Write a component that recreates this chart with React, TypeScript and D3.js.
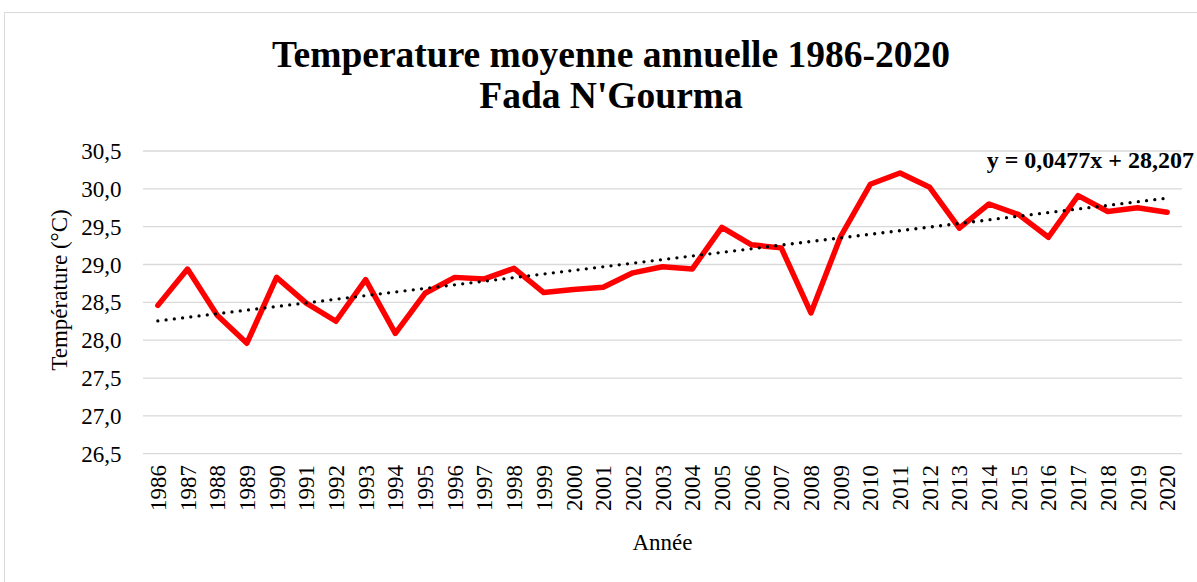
import { useRef, useEffect } from "react";
import * as d3 from "d3";

const years = [
  "1986", "1987", "1988", "1989", "1990", "1991", "1992", "1993", "1994",
  "1995", "1996", "1997", "1998", "1999", "2000", "2001", "2002", "2003",
  "2004", "2005", "2006", "2007", "2008", "2009", "2010", "2011", "2012",
  "2013", "2014", "2015", "2016", "2017", "2018", "2019", "2020",
];

const temperatures = [
  28.46, 28.94, 28.33, 27.96, 28.83, 28.49, 28.25, 28.8, 28.09,
  28.62, 28.83, 28.81, 28.95, 28.63, 28.67, 28.7, 28.89, 28.97,
  28.94, 29.49, 29.26, 29.22, 28.36, 29.37, 30.06, 30.21, 30.02,
  29.48, 29.8, 29.66, 29.36, 29.91, 29.7, 29.75, 29.69,
];

const yTicks = [26.5, 27.0, 27.5, 28.0, 28.5, 29.0, 29.5, 30.0, 30.5];

// trend line as shown on the chart (x = 1..35)
const trendSlope = 0.0477;
const trendIntercept = 28.207;
const trendLabel = "y = 0,0477x + 28,207";

const titleLines = ["Temperature moyenne annuelle 1986-2020", "Fada N'Gourma"];

export default function App() {
  const svgRef = useRef<SVGSVGElement>(null);

  useEffect(() => {
    if (!svgRef.current) return;
    const svg = d3.select(svgRef.current);
    svg.selectAll("*").remove();

    const font = "'Liberation Serif', 'Times New Roman', serif";
    const left = 143;
    const right = 1182;
    const top = 151;
    const bottom = 453.7;

    const x = d3.scaleBand<string>().domain(years).range([left, right]);
    const cx = (yr: string) => (x(yr) ?? 0) + x.bandwidth() / 2;
    const y = d3.scaleLinear().domain([26.5, 30.5]).range([bottom, top]);

    // chart frame
    svg
      .append("rect")
      .attr("x", 4.5)
      .attr("y", 12.5)
      .attr("width", 1240)
      .attr("height", 620)
      .attr("fill", "#fff")
      .attr("stroke", "#d9d9d9")
      .attr("stroke-width", 1);

    // title
    const title = svg
      .append("text")
      .attr("text-anchor", "middle")
      .attr("font-family", font)
      .attr("font-weight", "bold")
      .attr("font-size", 37.5)
      .attr("fill", "#000");
    titleLines.forEach((line, i) => {
      title
        .append("tspan")
        .attr("x", 611)
        .attr("y", 67 + i * 41)
        .text(line);
    });

    // gridlines
    svg
      .append("g")
      .selectAll("line")
      .data(yTicks)
      .join("line")
      .attr("x1", left)
      .attr("x2", right)
      .attr("y1", (d) => y(d))
      .attr("y2", (d) => y(d))
      .attr("stroke", "#d9d9d9")
      .attr("stroke-width", 1.3);

    // y tick labels
    svg
      .append("g")
      .selectAll("text")
      .data(yTicks)
      .join("text")
      .attr("x", 121.5)
      .attr("y", (d) => y(d))
      .attr("dy", "0.35em")
      .attr("text-anchor", "end")
      .attr("font-family", font)
      .attr("font-size", 23)
      .attr("fill", "#000")
      .text((d) => d.toFixed(1).replace(".", ","));

    // x tick labels (rotated)
    svg
      .append("g")
      .selectAll("text")
      .data(years)
      .join("text")
      .attr("transform", (d) => `translate(${cx(d)},465) rotate(-90)`)
      .attr("dy", "0.35em")
      .attr("text-anchor", "end")
      .attr("font-family", font)
      .attr("font-size", 23)
      .attr("fill", "#000")
      .text((d) => d);

    // axis titles
    svg
      .append("text")
      .attr("transform", "translate(59,290) rotate(-90)")
      .attr("dy", "0.35em")
      .attr("text-anchor", "middle")
      .attr("font-family", font)
      .attr("font-size", 23)
      .attr("fill", "#000")
      .text("Température (°C)");

    svg
      .append("text")
      .attr("x", (left + right) / 2)
      .attr("y", 550)
      .attr("text-anchor", "middle")
      .attr("font-family", font)
      .attr("font-size", 23)
      .attr("fill", "#000")
      .text("Année");

    // data line
    const line = d3
      .line<number>()
      .x((_, i) => cx(years[i]))
      .y((d) => y(d));

    svg
      .append("path")
      .datum(temperatures)
      .attr("d", line)
      .attr("fill", "none")
      .attr("stroke", "#ff0000")
      .attr("stroke-width", 5.5)
      .attr("stroke-linejoin", "round")
      .attr("stroke-linecap", "round");

    // trend line
    const trendVals = years.map((_, i) => trendIntercept + trendSlope * (i + 1));
    svg
      .append("path")
      .datum(trendVals)
      .attr("d", line)
      .attr("fill", "none")
      .attr("stroke", "#000")
      .attr("stroke-width", 3.3)
      .attr("stroke-linecap", "round")
      .attr("stroke-dasharray", "0 8.3");

    svg
      .append("text")
      .attr("x", 1194)
      .attr("y", 168)
      .attr("text-anchor", "end")
      .attr("font-family", font)
      .attr("font-weight", "bold")
      .attr("font-size", 24)
      .attr("fill", "#000")
      .text(trendLabel);
  }, []);

  return (
    <svg
      ref={svgRef}
      width={1197}
      height={582}
      style={{ position: "absolute", left: 0, top: 0, background: "#fff" }}
    />
  );
}
